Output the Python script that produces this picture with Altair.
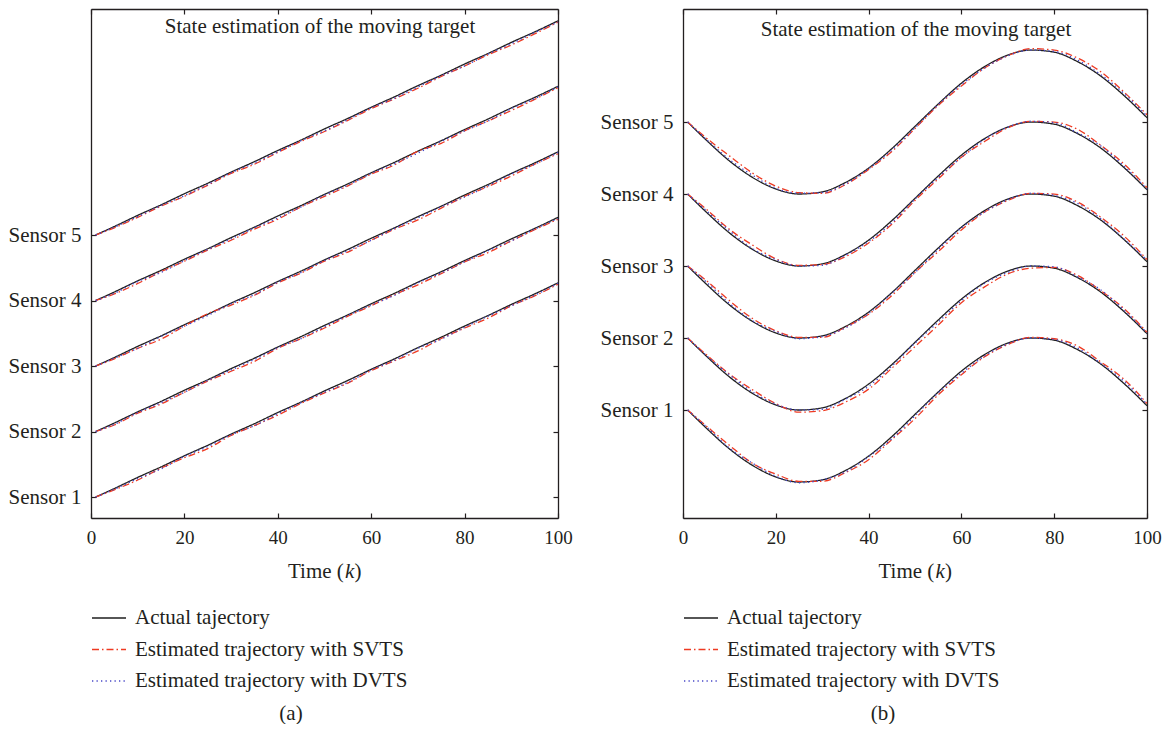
import altair as alt
import pandas as pd

# ---------------- data ----------------
K = [1, 5, 10, 15, 20, 25, 30, 35, 40, 45, 50, 55, 60, 65, 70, 75, 80, 85, 90, 95, 100]
SENSORS = [1, 2, 3, 4, 5]
X_TICKS = [0, 20, 40, 60, 80, 100]
SERIES = ["Actual tajectory", "Estimated trajectory with SVTS", "Estimated trajectory with DVTS"]
COLORS = ["#1f1f1f", "#ee3a22", "#4848c8"]
DASHES = [[1, 0], [7, 3, 1.5, 3], [1.3, 3.2]]

# panel (a): rise of the actual trajectory above each sensor's start
A_ACTUAL = [0.00, 0.13, 0.30, 0.46, 0.63, 0.79, 0.96, 1.12, 1.29, 1.45, 1.62,
            1.78, 1.95, 2.11, 2.28, 2.44, 2.61, 2.77, 2.94, 3.10, 3.27]
A_SVTS_1 = [0, -0.02, -0.04, -0.02, -0.03, -0.05, -0.02, -0.03, -0.04, -0.02, -0.03,
            -0.04, -0.02, -0.03, -0.05, -0.02, -0.03, -0.04, -0.02, -0.03, -0.02]
A_SVTS_2 = [0, -0.03, -0.02, -0.04, -0.03, -0.02, -0.04, -0.05, -0.02, -0.03, -0.04,
            -0.02, -0.03, -0.02, -0.04, -0.03, -0.02, -0.04, -0.03, -0.02, -0.03]
A_SVTS_3 = [0, -0.02, -0.03, -0.05, -0.02, 0.01, -0.03, -0.04, -0.02, -0.03, -0.02,
            -0.04, -0.03, -0.02, -0.05, -0.03, -0.02, -0.03, -0.04, -0.02, -0.03]
A_SVTS_4 = [0, -0.03, -0.04, -0.02, -0.03, -0.02, -0.04, -0.03, -0.05, -0.02, -0.03,
            -0.03, -0.02, -0.04, 0.00, -0.04, -0.02, -0.03, -0.04, -0.03, -0.02]
A_SVTS_5 = [0, -0.02, -0.03, -0.02, -0.04, -0.03, -0.02, -0.04, -0.03, -0.02, -0.04,
            -0.03, -0.02, -0.03, -0.04, -0.02, -0.03, -0.02, -0.04, -0.03, -0.02]
A_DVTS_1 = [0, -0.01, -0.02, -0.03, -0.01, -0.02, -0.01, -0.03, -0.02, -0.01, -0.02,
            -0.03, -0.01, -0.02, -0.01, -0.03, -0.02, -0.01, -0.02, -0.02, -0.01]
A_DVTS_2 = [0, -0.02, -0.01, -0.02, -0.03, -0.01, -0.02, -0.02, -0.01, -0.03, -0.02,
            -0.01, -0.02, -0.03, -0.01, -0.02, -0.02, -0.01, -0.03, -0.01, -0.02]
A_DVTS_3 = [0, -0.01, -0.03, -0.01, -0.02, -0.02, -0.01, -0.03, -0.01, -0.02, -0.01,
            -0.02, -0.03, -0.01, -0.02, -0.01, -0.03, -0.02, -0.01, -0.02, -0.01]
A_DVTS_4 = [0, -0.02, -0.01, -0.03, -0.02, -0.01, -0.02, -0.01, -0.03, -0.02, -0.01,
            -0.02, -0.01, -0.02, -0.03, -0.01, -0.02, -0.03, -0.01, -0.02, -0.01]
A_DVTS_5 = [0, -0.01, -0.02, -0.01, -0.03, -0.02, -0.01, -0.02, -0.02, -0.01, -0.03,
            -0.02, -0.01, -0.02, -0.02, -0.01, -0.03, -0.01, -0.02, -0.01, -0.02]

# panel (b): swing of the actual trajectory around each sensor's start
B_ACTUAL = [0.00, -0.25, -0.54, -0.77, -0.93, -1.00, -0.97, -0.84, -0.64, -0.37, -0.06,
            0.25, 0.54, 0.77, 0.93, 1.00, 0.97, 0.84, 0.64, 0.37, 0.06]
B_SVTS_1 = [0, 0.03, 0.05, 0.03, 0.04, 0.01, -0.02, -0.03, -0.05, -0.04, -0.06,
            -0.04, -0.05, -0.03, -0.02, 0.01, 0.02, 0.05, 0.03, 0.06, 0.03]
B_SVTS_2 = [0, 0.02, 0.04, 0.05, 0.02, -0.03, -0.04, -0.05, -0.07, -0.05, -0.06,
            -0.07, -0.05, -0.06, -0.04, -0.03, 0.01, 0.03, 0.02, 0.04, 0.02]
B_SVTS_3 = [0, 0.05, 0.06, 0.04, 0.03, 0.01, -0.02, -0.01, -0.03, -0.04, -0.03,
            -0.05, -0.04, -0.02, -0.02, 0.01, 0.03, 0.05, 0.04, 0.05, 0.03]
B_SVTS_4 = [0, 0.04, 0.05, 0.06, 0.03, 0.01, -0.01, -0.03, -0.04, -0.05, -0.03,
            -0.04, -0.03, -0.04, -0.01, 0.01, 0.03, 0.06, 0.04, 0.05, 0.03]
B_SVTS_5 = [0, 0.03, 0.07, 0.06, 0.04, 0.02, -0.02, -0.03, -0.02, -0.04, -0.03,
            -0.02, -0.04, -0.02, -0.01, 0.02, 0.03, 0.05, 0.06, 0.05, 0.04]
B_DVTS_1 = [0, 0.02, 0.01, 0.03, 0.01, -0.01, 0.00, -0.02, -0.01, -0.03, -0.02,
            -0.01, -0.03, -0.02, -0.01, 0.00, 0.01, 0.02, 0.01, 0.03, 0.02]
B_DVTS_2 = [0, 0.01, 0.03, 0.02, 0.01, 0.00, -0.02, -0.01, -0.03, -0.02, -0.01,
            -0.03, -0.02, -0.01, -0.02, 0.00, 0.02, 0.01, 0.03, 0.02, 0.01]
B_DVTS_3 = [0, 0.03, 0.02, 0.01, 0.02, -0.01, -0.01, -0.02, -0.02, -0.01, -0.03,
            -0.02, -0.01, -0.02, -0.01, 0.01, 0.01, 0.03, 0.02, 0.01, 0.02]
B_DVTS_4 = [0, 0.02, 0.03, 0.01, 0.02, 0.00, -0.02, -0.01, -0.02, -0.03, -0.01,
            -0.02, -0.03, -0.01, 0.00, 0.01, 0.02, 0.01, 0.03, 0.02, 0.01]
B_DVTS_5 = [0, 0.01, 0.02, 0.03, 0.01, 0.01, -0.01, -0.02, -0.01, -0.02, -0.02,
            -0.01, -0.02, -0.02, -0.01, 0.00, 0.01, 0.02, 0.02, 0.03, 0.02]

TITLE = "State estimation of the moving target"

# ---------------- styling ----------------
FONT = "Liberation Serif"
INK = "#231f20"
FS = 21
W_A, W_B, H = 467, 464, 509


def build_rows(actual, svts, dvts):
    rows = []
    for s, sv, dv in zip(SENSORS, svts, dvts):
        for k, a, e1, e2 in zip(K, actual, sv, dv):
            rows.append({"k": k, "sensor": s, "series": SERIES[0], "y": s + a})
            rows.append({"k": k, "sensor": s, "series": SERIES[1], "y": s + a + e1})
            rows.append({"k": k, "sensor": s, "series": SERIES[2], "y": s + a + e2})
    return pd.DataFrame(rows)


TICK_IN = {"expr": "-5"}


def panel(df, ydom, width, title_x, title_y, caption, caption_x):
    legend = alt.Legend(orient="none", legendX=0, legendY=591, title=None,
                        symbolType="stroke", symbolSize=1156, symbolStrokeWidth=1.3,
                        labelFont=FONT, labelFontSize=FS, labelColor=INK,
                        labelOffset=8, rowPadding=3.5, labelLimit=0, padding=0,
                        direction="vertical")
    color = alt.Color("series:N", scale=alt.Scale(domain=SERIES, range=COLORS), legend=legend)
    dash = alt.StrokeDash("series:N", scale=alt.Scale(domain=SERIES, range=DASHES), legend=legend)
    xscale = alt.Scale(domain=[0, 100], nice=False)
    yscale = alt.Scale(domain=ydom, nice=False, zero=False)

    common_axis = dict(grid=False, domainColor=INK, domainWidth=1.3, tickColor=INK,
                       tickWidth=1.2, tickSize=TICK_IN, title=None)
    x_bottom = alt.Axis(orient="bottom", values=X_TICKS, labelFont=FONT, labelFontSize=19,
                        labelColor=INK, labelPadding=15, labelFlush=False, **common_axis)
    y_left = alt.Axis(orient="left", values=SENSORS, labelExpr="'Sensor ' + datum.value",
                      labelFont=FONT, labelFontSize=FS, labelColor=INK, labelPadding=15,
                      **common_axis)
    x_top = alt.Axis(orient="top", values=X_TICKS, labels=False, **common_axis)
    y_right = alt.Axis(orient="right", values=SENSORS, labels=False, **common_axis)

    base = alt.Chart(df)
    actual = base.transform_filter(alt.datum.series == SERIES[0]).mark_line(
        strokeWidth=1.3, interpolate="monotone").encode(
        x=alt.X("k:Q", scale=xscale, axis=x_bottom),
        y=alt.Y("y:Q", scale=yscale, axis=y_left),
        color=color, strokeDash=dash, detail="sensor:N")
    svts = base.transform_filter(alt.datum.series == SERIES[1]).mark_line(
        strokeWidth=1.3, interpolate="monotone").encode(
        x=alt.X("k:Q", scale=xscale, axis=None),
        y=alt.Y("y:Q", scale=yscale, axis=None),
        color=color, strokeDash=dash, detail="sensor:N")
    dvts = base.transform_filter(alt.datum.series == SERIES[2]).mark_line(
        strokeWidth=1.4, interpolate="monotone").encode(
        x=alt.X("k:Q", scale=xscale, axis=None),
        y=alt.Y("y:Q", scale=yscale, axis=None),
        color=color, strokeDash=dash, detail="sensor:N")
    frame = base.transform_filter(alt.datum.series == SERIES[0]).mark_point(opacity=0).encode(
        x=alt.X("k:Q", scale=xscale, axis=x_top),
        y=alt.Y("y:Q", scale=yscale, axis=y_right))

    one = pd.DataFrame({"a": [0]})
    tb = alt.Chart(one)
    title = tb.mark_text(text=TITLE, font=FONT, fontSize=FS, color=INK, align="center",
                         baseline="alphabetic").encode(x=alt.value(title_x), y=alt.value(title_y))
    cx = width / 2 - 36.5
    t1 = tb.mark_text(text="Time (", font=FONT, fontSize=FS, color=INK, align="left",
                      baseline="alphabetic").encode(x=alt.value(cx), y=alt.value(569))
    t2 = tb.mark_text(text="k", font=FONT, fontSize=FS, fontStyle="italic", color=INK,
                      align="left", baseline="alphabetic").encode(x=alt.value(cx + 57), y=alt.value(569))
    t3 = tb.mark_text(text=")", font=FONT, fontSize=FS, color=INK, align="left",
                      baseline="alphabetic").encode(x=alt.value(cx + 66.5), y=alt.value(569))
    cap = tb.mark_text(text=caption, font=FONT, fontSize=FS, color=INK, align="center",
                       baseline="alphabetic").encode(x=alt.value(caption_x), y=alt.value(711))

    return alt.layer(actual, svts, dvts, frame, title, t1, t2, t3, cap).resolve_axis(
        x="independent", y="independent").properties(width=width, height=H)


df_a = build_rows(A_ACTUAL, [A_SVTS_1, A_SVTS_2, A_SVTS_3, A_SVTS_4, A_SVTS_5],
                  [A_DVTS_1, A_DVTS_2, A_DVTS_3, A_DVTS_4, A_DVTS_5])
df_b = build_rows(B_ACTUAL, [B_SVTS_1, B_SVTS_2, B_SVTS_3, B_SVTS_4, B_SVTS_5],
                  [B_DVTS_1, B_DVTS_2, B_DVTS_3, B_DVTS_4, B_DVTS_5])

left = panel(df_a, [0.68, 8.45], W_A, 229, 24, "(a)", 200)
right = panel(df_b, [-0.5, 6.57], W_B, 233, 27, "(b)", 200)

chart = alt.hconcat(left, right, spacing=27).resolve_scale(
    color="independent", strokeDash="independent").properties(
    padding={"left": 0, "top": 0, "right": 0, "bottom": 0}).configure_view(stroke=None)

chart.save("out.html", embed_options={"renderer": "svg", "actions": False})
